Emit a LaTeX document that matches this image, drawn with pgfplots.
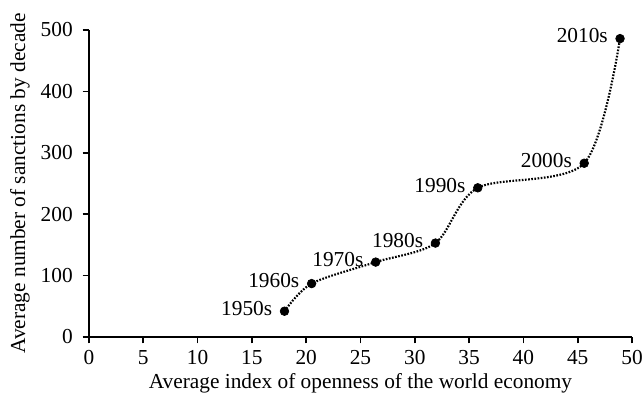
\documentclass[border=0pt]{standalone}
\usepackage{pgfplots}
\pgfplotsset{compat=1.18}
\usepackage{fontspec}
\setmainfont{Liberation Serif}
\begin{document}
\fontsize{12.8pt}{15pt}\selectfont
\begin{tikzpicture}
\useasboundingbox (-53.4pt,-39pt) rectangle (332.4pt,202.2pt);
\begin{axis}[
  scale only axis,
  width=325.8pt, height=184.2pt,
  xmin=0, xmax=50, ymin=0, ymax=500,
  axis lines*=left,
  axis line style={line width=1.1pt},
  xtick={0,5,...,50}, ytick={0,100,...,500},
  tick align=outside,
  major tick length=3.8pt,
  tick style={line width=1pt, black},
  /pgf/number format/assume math mode=true,
  ticklabel style={font=\fontsize{12.8pt}{15pt}\selectfont},
  yticklabel style={xshift=-1.5pt},
  xlabel={Average index of openness of the world economy},
  ylabel={Average number of sanctions by decade},
  label style={font=\fontsize{12.8pt}{15pt}\selectfont},
  xlabel style={at={(axis description cs:0.5,-0.15)},anchor=center},
  ylabel style={at={(axis description cs:-0.127,0.5)},anchor=center},
  clip=false,
]
\addplot[black, line width=1.3pt, dash pattern=on 1pt off 0.9pt, smooth, tension=0.5, no marks] table {
x y
18.0 42
20.5 87
26.4 122
31.9 153
35.8 243
45.6 283
48.9 486
};
\addplot[only marks, mark=*, mark size=2.6pt, black,
  point meta=explicit symbolic,
  nodes near coords,
  every node near coord/.style={anchor=east, inner sep=0pt, xshift=-7.2pt, yshift=1.6pt, font=\fontsize{12.8pt}{15pt}\selectfont, text=black}]
table[meta=lab] {
x y lab
18.0 42 1950s
20.5 87 1960s
26.4 122 1970s
31.9 153 1980s
35.8 243 1990s
45.6 283 2000s
48.9 486 2010s
};
\end{axis}
\end{tikzpicture}
\end{document}
